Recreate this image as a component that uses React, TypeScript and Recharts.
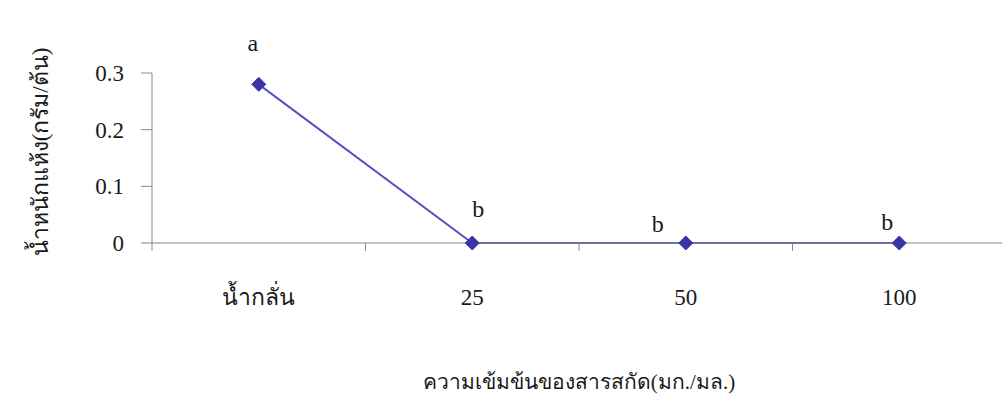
import React from "react";
import { LineChart, Line, XAxis, YAxis, LabelList, Label } from "recharts";

// ---- data ----
const categories = ["น้ำกลั่น", "25", "50", "100"];
const dryWeight = [0.28, 0, 0, 0];
const groupLetters = ["a", "b", "b", "b"];
const yTicks = [0, 0.1, 0.2, 0.3];

const yTitle = "น้ำหนักแห้ง(กรัม/ต้น)";
const xTitle = "ความเข้มข้นของสารสกัด(มก./มล.)";

// ---- style / layout ----
const CHART_W = 1010;
const CHART_H = 408;
const MARGIN = { top: 73, right: 4, bottom: 15, left: 0 };
const Y_AXIS_W = 152;
const X_AXIS_H = 150;
const PLOT_W = CHART_W - MARGIN.left - MARGIN.right - Y_AXIS_W;
const BAND_W = PLOT_W / categories.length;
const FONT = "'Liberation Serif', 'Times New Roman', serif";
const AXIS_COLOR = "#8a8a8a";
const LINE_COLOR = "#5752c2";
const DOT_COLOR = "#3b34a6";
const TEXT_COLOR = "#1a1a1a";
const LETTER_DX = [-6, 6, -28, -12];
const LETTER_DY = [-33, -26, -11, -13];

const data = categories.map((c, i) => ({
  name: c,
  value: dryWeight[i],
  letter: groupLetters[i],
}));

const XTick = (props: any) => {
  const { x, y, payload } = props;
  const bx = x - BAND_W / 2;
  return (
    <g>
      <line x1={bx} y1={y} x2={bx} y2={y + 8} stroke={AXIS_COLOR} strokeWidth={1} />
      <text
        x={x}
        y={y + 62}
        textAnchor="middle"
        fontFamily={FONT}
        fontSize={23}
        fill={TEXT_COLOR}
      >
        {payload.value}
      </text>
    </g>
  );
};

const Diamond = (props: any) => {
  const { cx, cy } = props;
  if (cx == null || cy == null) return null;
  const r = 7;
  return (
    <polygon
      points={`${cx},${cy - r} ${cx + r},${cy} ${cx},${cy + r} ${cx - r},${cy}`}
      fill={DOT_COLOR}
      stroke={DOT_COLOR}
      strokeWidth={1}
    />
  );
};

const LetterLabel = (props: any) => {
  const { x, y, value, index } = props;
  return (
    <text
      x={x + LETTER_DX[index]}
      y={y + LETTER_DY[index]}
      textAnchor="middle"
      fontFamily={FONT}
      fontSize={24}
      fill={TEXT_COLOR}
    >
      {value}
    </text>
  );
};

const YTitle = (props: any) => {
  const cx = 40;
  const cy = 152;
  return (
    <text
      x={cx}
      y={cy}
      transform={`rotate(-90, ${cx}, ${cy})`}
      textAnchor="middle"
      dominantBaseline="central"
      fontFamily={FONT}
      fontSize={23}
      fill={TEXT_COLOR}
    >
      {yTitle}
    </text>
  );
};

export default function App() {
  return (
    <div
      style={{
        position: "fixed",
        left: 0,
        top: 0,
        width: 1002,
        height: 408,
        overflow: "hidden",
        background: "#ffffff",
      }}
    >
      <LineChart width={CHART_W} height={CHART_H} data={data} margin={MARGIN}>
        <XAxis
          dataKey="name"
          type="category"
          height={X_AXIS_H}
          stroke={AXIS_COLOR}
          padding={{ left: BAND_W / 2, right: BAND_W / 2 }}
          tickLine={false}
          tickSize={0}
          tickMargin={0}
          tick={<XTick />}
          interval={0}
        >
          <Label
            value={xTitle}
            position="insideBottom"
            offset={4}
            style={{ fontFamily: FONT, fontSize: 21, fill: TEXT_COLOR }}
          />
        </XAxis>
        <YAxis
          width={Y_AXIS_W}
          domain={[0, 0.3]}
          ticks={yTicks}
          stroke={AXIS_COLOR}
          tickSize={11}
          tickMargin={17}
          tick={{ fontFamily: FONT, fontSize: 23, fill: TEXT_COLOR }}
          label={<YTitle />}
        />
        <Line
          type="linear"
          dataKey="value"
          stroke={LINE_COLOR}
          strokeWidth={2}
          dot={<Diamond />}
          activeDot={false}
          isAnimationActive={false}
        >
          <LabelList dataKey="letter" content={<LetterLabel />} />
        </Line>
      </LineChart>
    </div>
  );
}
